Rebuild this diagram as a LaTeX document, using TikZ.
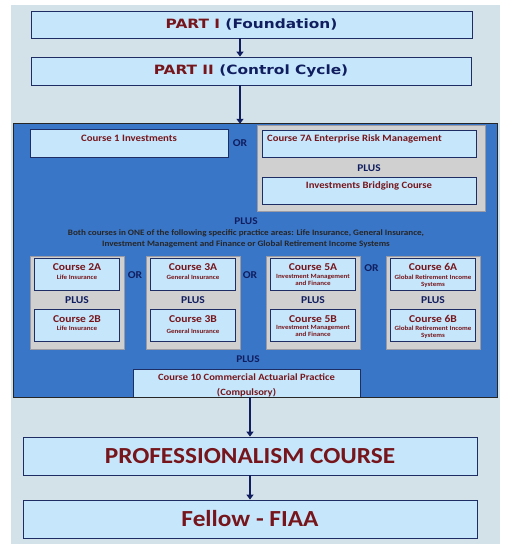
\documentclass[tikz,border=0pt]{standalone}
\usepackage{fontspec}
\setmainfont{Carlito}[FakeStretch=1.1]
\newfontfamily\partfont{DejaVu Sans}[FakeStretch=1.2]
\usetikzlibrary{arrows.meta}
\definecolor{bgc}{RGB}{211,226,232}
\definecolor{boxc}{RGB}{198,231,251}
\definecolor{bluec}{RGB}{58,118,200}
\definecolor{grayc}{RGB}{208,208,208}
\definecolor{grayd}{RGB}{155,155,165}
\definecolor{maroonc}{RGB}{118,22,28}
\definecolor{navyc}{RGB}{16,30,95}
\definecolor{edgec}{RGB}{30,45,100}
\newcommand{\myfs}[1]{\fontsize{#1}{#1}\selectfont}
\tikzset{
  lbox/.style={draw=edgec, line width=0.8pt, fill=boxc, inner sep=0pt},
  grp/.style={draw=grayd, line width=1pt, fill=grayc, inner sep=0pt, minimum width=94pt, minimum height=93pt},
  ttl/.style={inner sep=0pt, text=maroonc, font=\bfseries\myfs{#1}},
  nav/.style={inner sep=0pt, text=navyc, font=\bfseries\myfs{#1}},
  sub/.style={inner sep=0pt, text=maroonc, align=center, font=\bfseries\fontsize{6.4}{6.8}\selectfont},
  arr/.style={draw=navyc, line width=2pt, -{Triangle[length=5pt,width=7pt]}},
}
\newcommand{\mygroup}[5]{%
  \node[grp] (g#1) at (#2,302.5) {};
  \node[lbox, minimum width=85pt, minimum height=32pt] (a#1) at (#2,274) {};
  \node[ttl=10.5] (ta#1) at (#2,267) {Course #1A};
  \node[sub, anchor=north] (sa#1) at (#2,274.5) {#3};
  \node[nav=10.5] (pl#1) at (#2,300.5) {PLUS};
  \node[lbox, minimum width=85pt, minimum height=32pt] (b#1) at (#2,325.5) {};
  \node[ttl=10.5] (tb#1) at (#2,319) {Course #1B};
  \node[sub, anchor=north] (sb#1) at (#2,#5) {#4};
}
\begin{document}
\begin{tikzpicture}[x=1pt,y=-1pt]
\useasboundingbox (0,0) rectangle (511,551);
\fill[bgc] (11,5) rectangle (500,544);

\coordinate (ax) at (240,0);
\coordinate (bx) at (250,0);

\node[lbox, minimum width=441pt, minimum height=27pt, text=navyc, font=\partfont\bfseries\myfs{12.8}] (p1) at (251.5,24.5) {\textcolor{maroonc}{PART I} (Foundation)};
\node[lbox, minimum width=440pt, minimum height=28pt, text=navyc, font=\partfont\bfseries\myfs{12.8}] (p2) at (251,71) {\textcolor{maroonc}{PART II} (Control Cycle)};

% big blue panel
\node[fill=bluec, inner sep=0pt, minimum width=483pt, minimum height=273pt] (big) at (255.5,260.5) {};

\node[lbox, minimum width=198pt, minimum height=28pt] (c1) at (129,143) {};
\node[ttl=9.8] (c1t) at (129,138.5) {Course 1 Investments};
\node[nav=10.5] (or1) at (240,143) {OR};

\node[draw=grayd, line width=1pt, fill=grayc, inner sep=0pt, minimum width=228pt, minimum height=86pt] (g7) at (371,168) {};
\node[lbox, minimum width=214pt, minimum height=27pt] (c7) at (369,143.5) {};
\node[ttl=9.7, anchor=west] (c7t) at (267,138.5) {Course 7A Enterprise Risk Management};
\node[nav=10.3] (pl7) at (369,168) {PLUS};
\node[lbox, minimum width=214pt, minimum height=27pt] (ib) at (369,190.5) {};
\node[ttl=9.7] (ibt) at (369,185.5) {Investments Bridging Course};

\node[nav=10.3] (plm) at (246,221) {PLUS};
\node[inner sep=0pt, text=black!85, align=center, font=\bfseries\fontsize{8.3}{10.8}\selectfont] (both) at (246,238.5) {Both courses in ONE of the following specific practice areas: Life Insurance, General Insurance,\\Investment Management and Finance or Global Retirement Income Systems};

\mygroup{2}{77}{Life Insurance}{Life Insurance}{325.5}
\mygroup{3}{193}{General Insurance}{General Insurance}{329}
\mygroup{5}{313}{Investment Management\\and Finance}{Investment Management\\and Finance}{325.5}
\mygroup{6}{433}{Global Retirement Income\\Systems}{Global Retirement Income\\Systems}{325.5}

\node[nav=10.5] (or2) at (135,275) {OR};
\node[nav=10.5] (or3) at (250,275) {OR};
\node[nav=10.5] (or4) at (371.5,268.5) {OR};

\node[nav=10.3] (plb) at (248,359.5) {PLUS};
\node[lbox, minimum width=227pt, minimum height=28pt] (c10) at (246.5,383) {};
\node[ttl=9.6, align=center, font=\bfseries\fontsize{9.6}{15}\selectfont] (c10t) at (246.5,385) {Course 10 Commercial Actuarial Practice\\(Compulsory)};
\draw[draw=black!85, line width=1.2pt] (big.south west) rectangle (big.north east);

\node[lbox, minimum width=454pt, minimum height=38pt, text=maroonc, font=\bfseries\myfs{23}] (prof) at (250,456) {PROFESSIONALISM COURSE};
\node[lbox, minimum width=454pt, minimum height=38pt, text=maroonc, font=\bfseries\myfs{23}] (fel) at (250,519) {Fellow - FIAA};

\draw[arr] (p1.south -| ax) -- (p2.north -| ax);
\draw[arr] (p2.south -| ax) -- (big.north -| ax);
\draw[arr] (big.south -| bx) -- (prof.north -| bx);
\draw[arr] (prof.south -| bx) -- (fel.north -| bx);
\end{tikzpicture}
\end{document}
